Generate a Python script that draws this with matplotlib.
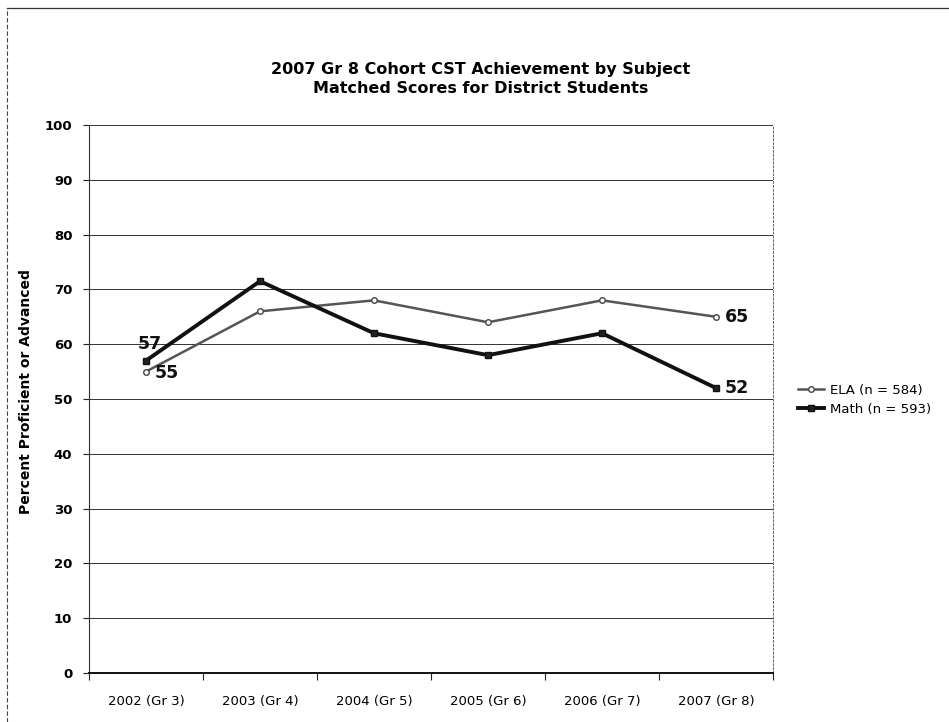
import matplotlib
matplotlib.use("Agg")
import matplotlib.pyplot as plt
from matplotlib.lines import Line2D
import numpy as np

categories = ["2002 (Gr 3)", "2003 (Gr 4)", "2004 (Gr 5)", "2005 (Gr 6)", "2006 (Gr 7)", "2007 (Gr 8)"]
ela = [55, 66, 68, 64, 68, 65]
math_scores = [57, 71.5, 62, 58, 62, 52]
ela_label = "ELA (n = 584)"
math_label = "Math (n = 593)"
yticks = list(range(0, 101, 10))

plt.rcParams['font.family'] = ['DejaVu Sans']
W, H = 949, 722
fig = plt.figure(figsize=(W / 100, H / 100), dpi=100)
ax = fig.add_axes([89 / W, 1 - 673 / H, (773 - 89) / W, (673 - 125) / H])

x = list(range(len(categories)))
ax.set_xlim(-0.5, len(categories) - 0.5)
ax.set_ylim(0, 100)
ax.set_yticks(yticks)
ax.set_xticks(x)
ax.set_xticklabels(categories, fontsize=9.5)
ax.set_xticks(np.arange(-0.5, len(categories), 1.0), minor=True)
ax.tick_params(axis='x', which='major', length=0, pad=16)
ax.tick_params(axis='x', which='minor', length=5, width=0.8, direction='out', color='#222222')
ax.tick_params(axis='y', labelsize=9.5, length=4, width=0.8, color='#222222', pad=8)
for lbl in ax.get_yticklabels():
    lbl.set_fontweight('bold')
ax.grid(axis='y', which='major', color='#333333', linewidth=0.7)
ax.set_axisbelow(True)
ax.spines['top'].set_visible(False)
ax.spines['right'].set_color('#666666')
ax.spines['right'].set_linestyle((0, (2, 2)))
ax.spines['right'].set_linewidth(0.7)
ax.spines['left'].set_color('#333333')
ax.spines['bottom'].set_color('#111111')
ax.spines['bottom'].set_linewidth(1.4)

ax.plot(x, ela, color='#555555', linewidth=1.8, marker='o', markersize=4,
        markerfacecolor='white', markeredgecolor='#444444', label=ela_label, zorder=3)
ax.plot(x, math_scores, color='#111111', linewidth=2.8, marker='s', markersize=5,
        markerfacecolor='#222222', markeredgecolor='#111111', label=math_label, zorder=4)

lab_kw = dict(textcoords='offset pixels', fontsize=12.5, fontweight='bold', color='#111111')
ax.annotate(str(math_scores[0]), (x[0], math_scores[0]), xytext=(-8, 8), ha='left', va='bottom', **lab_kw)
ax.annotate(str(ela[0]), (x[0], ela[0]), xytext=(9, -1), ha='left', va='center', **lab_kw)
ax.annotate(str(ela[-1]), (x[-1], ela[-1]), xytext=(9, 0), ha='left', va='center', **lab_kw)
ax.annotate(str(math_scores[-1]), (x[-1], math_scores[-1]), xytext=(9, 0), ha='left', va='center', **lab_kw)

ax.set_ylabel("Percent Proficient or Advanced", fontsize=10, fontweight='bold')
ax.yaxis.set_label_coords((33 - 89) / (773 - 89), (673 - 392) / (673 - 125))

fig.text(481 / W, 1 - 79 / H,
         "2007 Gr 8 Cohort CST Achievement by Subject\nMatched Scores for District Students",
         ha='center', va='center', fontsize=11.5, fontweight='bold', linespacing=1.3)

fig.legend(loc='center left', bbox_to_anchor=(786 / W, 1 - 400 / H), frameon=False,
           fontsize=9.5, handlelength=2.0, handletextpad=0.4, labelspacing=0.45)

fig.add_artist(Line2D([7 / W, 7 / W], [0, 1 - 8 / H], transform=fig.transFigure,
                      color='#444444', linewidth=0.8, linestyle=(0, (4, 2))))
fig.add_artist(Line2D([7 / W, 1], [1 - 8 / H, 1 - 8 / H], transform=fig.transFigure,
                      color='#333333', linewidth=0.9))

fig.savefig("out.png", dpi=100)
